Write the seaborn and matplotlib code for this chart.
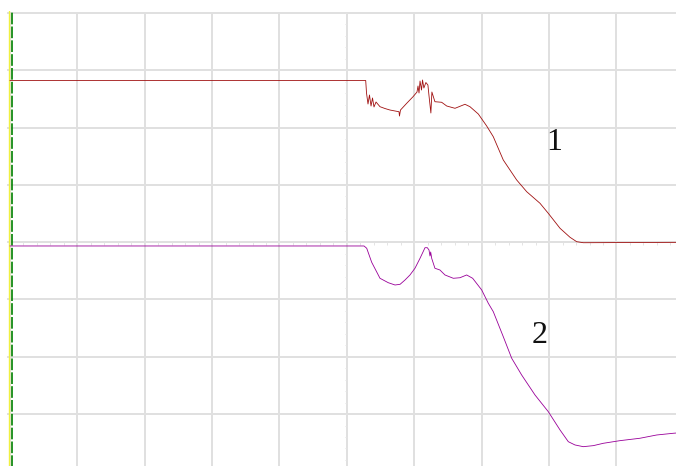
import numpy as np
import pandas as pd
import matplotlib
matplotlib.use("Agg")
import matplotlib.pyplot as plt
import seaborn as sns

# ---- data (screen divisions: x 0..10, y -4..4) ----
ch1_t = [0.000, 5.279, 5.291, 5.313, 5.335, 5.358, 5.380, 5.402, 5.432, 5.491, 5.565,
         5.639, 5.714, 5.773, 5.780, 5.795, 5.887, 5.981, 6.040, 6.055, 6.070, 6.085,
         6.107, 6.122, 6.142, 6.172, 6.202, 6.217, 6.246, 6.261, 6.306, 6.406, 6.481,
         6.604, 6.752, 6.826, 6.950, 7.074, 7.172, 7.320, 7.519, 7.668, 7.865, 7.988,
         8.162, 8.310, 8.409, 8.507, 10.000]
ch1_v = [2.822, 2.822, 2.604, 2.412, 2.569, 2.377, 2.517, 2.360, 2.447, 2.365, 2.333,
         2.307, 2.290, 2.277, 2.202, 2.307, 2.424, 2.539, 2.621, 2.726, 2.604, 2.813,
         2.656, 2.831, 2.691, 2.787, 2.743, 2.569, 2.255, 2.621, 2.452, 2.442, 2.377,
         2.337, 2.407, 2.365, 2.237, 2.028, 1.841, 1.435, 1.086, 0.881, 0.679, 0.504,
         0.243, 0.086, 0.009, -0.009, -0.002]

ch2_t = [0.000, 5.254, 5.294, 5.368, 5.491, 5.614, 5.714, 5.789, 5.862, 5.936, 6.010,
         6.085, 6.159, 6.193, 6.218, 6.233, 6.243, 6.258, 6.306, 6.380, 6.455, 6.579,
         6.678, 6.777, 6.866, 7.000, 7.098, 7.172, 7.320, 7.445, 7.593, 7.791, 7.988,
         8.162, 8.285, 8.384, 8.507, 8.656, 8.804, 9.051, 9.348, 9.596, 9.843, 10.000]
ch2_v = [-0.066, -0.066, -0.106, -0.351, -0.630, -0.707, -0.747, -0.735, -0.660, -0.572,
         -0.455, -0.281, -0.096, -0.096, -0.136, -0.241, -0.171, -0.281, -0.455, -0.485,
         -0.572, -0.630, -0.620, -0.572, -0.630, -0.834, -1.066, -1.213, -1.649, -2.026,
         -2.318, -2.667, -2.958, -3.277, -3.482, -3.539, -3.569, -3.551, -3.510, -3.464,
         -3.422, -3.365, -3.335, -3.320]

labels = ["1", "2"]
label_pos = [(8.073, 1.736), (7.855, -1.620)]

df = pd.concat([
    pd.DataFrame({"t": ch1_t, "v": ch1_v, "ch": "1"}),
    pd.DataFrame({"t": ch2_t, "v": ch2_v, "ch": "2"}),
], ignore_index=True)

sns.set_style("white")

fig = plt.figure(figsize=(6.76, 4.66), dpi=100)
left_px, right_px, top_px, bot_px = 6.53, 683.9, 11.3, 477.1
ax = fig.add_axes([left_px / 676, (466 - bot_px) / 466,
                   (right_px - left_px) / 676, (bot_px - top_px) / 466])

grid_c = "#e0e0e0"
for x in range(0, 11):
    ax.axvline(x, ymax=(4.0 + 4.1) / 8.13, color=grid_c, lw=1.4, zorder=0)
for y in range(-4, 5):
    ax.axhline(y, color=grid_c, lw=1.4, zorder=0)

# small division ticks on the centre lines
ax.vlines(np.arange(0, 10.01, 0.2), -0.05, 0.0, color="#e4e4e4", lw=0.7, zorder=0)
ax.hlines(np.arange(-4, 4.01, 0.2), 4.97, 5.0, color="#e4e4e4", lw=0.7, zorder=0)

# left markers
ax.axvline(-0.009, color="#f0f040", lw=1.0, zorder=1)
ax.axvline(0.036, color="#008000", lw=1.2, zorder=1, dashes=(7, 1.3))

sns.lineplot(data=df, x="t", y="v", hue="ch", palette={"1": "#a01010", "2": "#990099"},
             estimator=None, sort=False, lw=0.6, legend=False, ax=ax, zorder=3)

for lab, (lx, ly) in zip(labels, label_pos):
    ax.text(lx, ly, lab, fontsize=23, family="Liberation Serif", ha="center", va="center",
            color="#111111")

ax.set_xlim(-0.05, 10)
ax.set_ylim(-4.1, 4.03)
ax.set_xticks([])
ax.set_yticks([])
ax.set_xlabel("")
ax.set_ylabel("")
for s in ax.spines.values():
    s.set_visible(False)

fig.savefig("out.png", dpi=100)
